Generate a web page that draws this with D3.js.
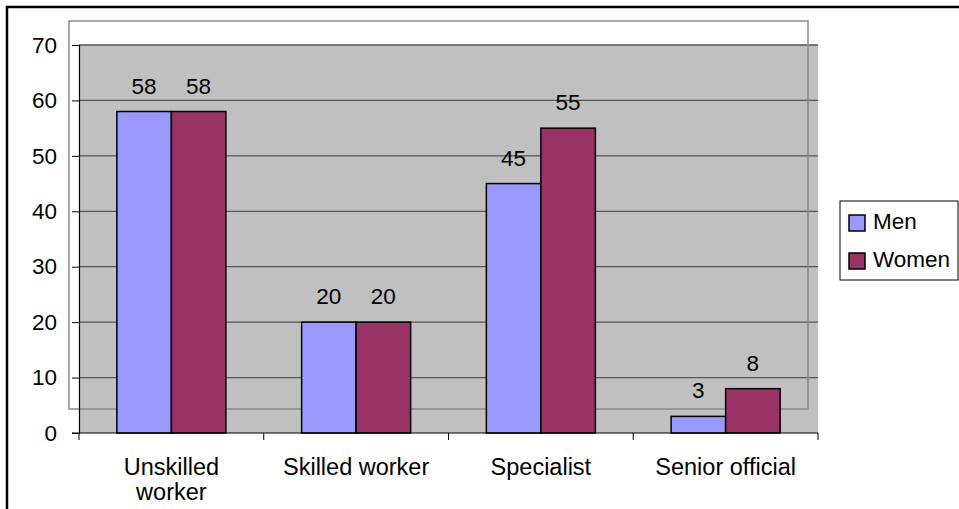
<!DOCTYPE html>
<html>
<head>
<meta charset="utf-8">
<script src="https://cdn.jsdelivr.net/npm/d3@7"></script>
<style>
  body { margin: 0; background: #fff; }
  text { font-family: "Liberation Sans", Arial, sans-serif; fill: #000; }
</style>
</head>
<body>
<div class="D3"></div>
<script>
var categories = ["Unskilled worker", "Skilled worker", "Specialist", "Senior official"];
var seriesNames = ["Men", "Women"];
var menValues = [58, 20, 45, 3];
var womenValues = [58, 20, 55, 8];
var yTicks = [0, 10, 20, 30, 40, 50, 60, 70];

var colors = { "Men": "#9999FF", "Women": "#993366" };

var svgWidth = 959;
var svgHeight = 509;

var plot = { left: 79, right: 818, top: 45, bottom: 433 };

var svg = d3.select(".D3")
  .append("svg")
  .attr("width", svgWidth)
  .attr("height", svgHeight);

// outer chart border (runs off the right and bottom edge)
svg.append("rect")
  .attr("x", 7).attr("y", 7)
  .attr("width", 1000).attr("height", 600)
  .attr("fill", "#fff")
  .attr("stroke", "#000")
  .attr("stroke-width", 2.5);

var data = categories.map(function (c, i) {
  return { category: c, values: [
    { key: "Men", value: menValues[i] },
    { key: "Women", value: womenValues[i] }
  ] };
});

var x0 = d3.scaleBand()
  .domain(categories)
  .range([plot.left, plot.right])
  .paddingInner(0.41)
  .paddingOuter(0.205);

var x1 = d3.scaleBand()
  .domain(seriesNames)
  .range([0, x0.bandwidth()]);

var y = d3.scaleLinear()
  .domain([0, 70])
  .range([plot.bottom, plot.top]);

// plot background
svg.append("rect")
  .attr("x", plot.left).attr("y", plot.top)
  .attr("width", plot.right - plot.left)
  .attr("height", plot.bottom - plot.top)
  .attr("fill", "#C0C0C0");

// gridlines
svg.append("g")
  .selectAll("line")
  .data(yTicks.filter(function (d) { return d > 0; }))
  .enter()
  .append("line")
  .attr("x1", plot.left).attr("x2", plot.right)
  .attr("y1", function (d) { return y(d); })
  .attr("y2", function (d) { return y(d); })
  .attr("stroke", "#555")
  .attr("stroke-width", 1.3);

// offset plot-area frame
svg.append("rect")
  .attr("x", 69).attr("y", 21)
  .attr("width", 808 - 69).attr("height", 409 - 21)
  .attr("fill", "none")
  .attr("stroke", "#8a8a8a")
  .attr("stroke-width", 1.5);

// bars
var groups = svg.append("g")
  .selectAll("g")
  .data(data)
  .enter()
  .append("g")
  .attr("transform", function (d) { return "translate(" + x0(d.category) + ",0)"; });

groups.selectAll("rect")
  .data(function (d) { return d.values; })
  .enter()
  .append("rect")
  .attr("x", function (d) { return x1(d.key); })
  .attr("y", function (d) { return y(d.value); })
  .attr("width", x1.bandwidth())
  .attr("height", function (d) { return y(0) - y(d.value); })
  .attr("fill", function (d) { return colors[d.key]; })
  .attr("stroke", "#000")
  .attr("stroke-width", 1.5);

groups.selectAll("text")
  .data(function (d) { return d.values; })
  .enter()
  .append("text")
  .attr("x", function (d) { return x1(d.key) + x1.bandwidth() / 2; })
  .attr("y", function (d) { return y(d.value) - 18; })
  .attr("text-anchor", "middle")
  .style("font-size", "22.5px")
  .text(function (d) { return d.value; });

// y axis
var leftAxis = d3.axisLeft(y)
  .tickValues(yTicks)
  .tickSize(7)
  .tickPadding(15)
  .tickFormat(d3.format("d"));

var yAxis = svg.append("g")
  .attr("transform", "translate(" + plot.left + ",0)")
  .call(leftAxis);
yAxis.select(".domain").attr("stroke", "#000").attr("stroke-width", 1.2);
yAxis.selectAll(".tick line").attr("stroke", "#000");
yAxis.selectAll(".tick text").style("font-size", "22.5px").attr("font-family", null);

// x axis
var xAxis = svg.append("g")
  .attr("transform", "translate(0," + plot.bottom + ")");

xAxis.append("line")
  .attr("x1", plot.left - 7).attr("x2", plot.right)
  .attr("y1", 0).attr("y2", 0)
  .attr("stroke", "#000")
  .attr("stroke-width", 1.2);

// ticks sit between categories
var boundaries = d3.range(categories.length + 1).map(function (i) {
  return plot.left + i * x0.step();
});

xAxis.selectAll(".xtick")
  .data(boundaries)
  .enter()
  .append("line")
  .attr("x1", function (d) { return d; })
  .attr("x2", function (d) { return d; })
  .attr("y1", 0).attr("y2", 7)
  .attr("stroke", "#000");

var catLabels = xAxis.selectAll(".cat")
  .data(categories)
  .enter()
  .append("text")
  .attr("x", function (d) { return x0(d) + x0.bandwidth() / 2; })
  .attr("y", 42)
  .attr("text-anchor", "middle")
  .style("font-size", "23.5px")
  .text(function (d) { return d; });

// wrap long labels like Excel does
catLabels.each(function (d) {
  var t = d3.select(this);
  if (this.getComputedTextLength() > 160) {
    var words = d.split(" ");
    var cx = t.attr("x");
    t.text(null);
    t.append("tspan").attr("x", cx).attr("dy", 0).text(words.slice(0, -1).join(" "));
    t.append("tspan").attr("x", cx).attr("dy", 25).text(words[words.length - 1]);
  }
});

// legend
var legend = svg.append("g");
legend.append("rect")
  .attr("x", 840).attr("y", 201)
  .attr("width", 118).attr("height", 79)
  .attr("fill", "#fff")
  .attr("stroke", "#000")
  .attr("stroke-width", 1);

var items = legend.selectAll(".item")
  .data(seriesNames)
  .enter()
  .append("g")
  .attr("transform", function (d, i) { return "translate(849," + (215 + i * 38) + ")"; });

items.append("rect")
  .attr("width", 16).attr("height", 16)
  .attr("fill", function (d) { return colors[d]; })
  .attr("stroke", "#000")
  .attr("stroke-width", 1.5);

items.append("text")
  .attr("x", 24)
  .attr("y", 14)
  .style("font-size", "22.5px")
  .text(function (d) { return d; });
</script>
</body>
</html>
